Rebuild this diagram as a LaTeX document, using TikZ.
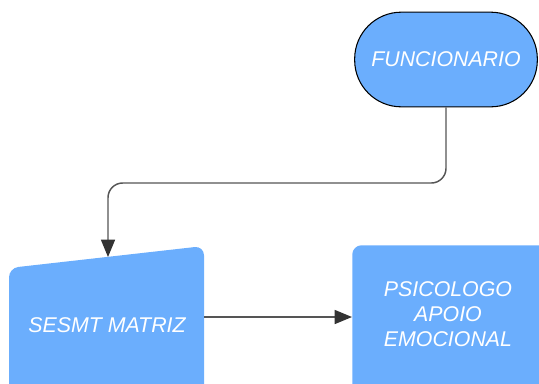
\documentclass[tikz,border=0pt]{standalone}
\usepackage{fontspec}
\setmainfont{Liberation Sans}
\usetikzlibrary{arrows.meta}
\definecolor{fundo}{HTML}{6BAEFD}
\definecolor{linha}{HTML}{555555}

\begin{document}
\begin{tikzpicture}[
        x=0.75pt, y=-0.75pt, % coordenadas em pixels
        rotulo/.style = {text=white, align=center, font=\itshape\fontsize{16}{19}\selectfont},
        terminal/.style = {rectangle, rounded corners=35pt, draw=black, line width=0.8pt, fill=fundo,
            minimum width=137pt, minimum height=71pt},
        bloco/.style = {fill=fundo, rounded corners=7pt},
        ligacao/.style = {draw=linha, line width=1.1pt, rounded corners=11pt,
            -{Triangle[length=13pt, width=10.5pt, color=black!80]}},
    ]
    \useasboundingbox (0,0) rectangle (539,383);
    \clip (0,0) rectangle (539,383);

    % terminal
    \node[terminal, rotulo] (func) at (446,59.5) {FUNCIONARIO};

    % entrada manual
    \fill[bloco] (9,268) -- (204,246) -- (204,420) -- (9,420) -- cycle;
    \coordinate (entrada) at (108,257);
    \coordinate (saida) at (204,317);
    \node[rotulo] (sesmt) at (107,325) {SESMT MATRIZ};

    % processo
    \node[bloco, anchor=north west, minimum width=200pt, minimum height=120pt] (psibox) at (352,245) {};
    \node[rotulo] (psi) at (448,314) {PSICOLOGO\\APOIO\\EMOCIONAL};

    % ligacoes
    \coordinate (dobra) at (108,183);
    \draw[ligacao] (func.south) |- (dobra) -- (entrada);
    \draw[ligacao] (saida) -- (psibox.west |- saida);
\end{tikzpicture}
\end{document}
